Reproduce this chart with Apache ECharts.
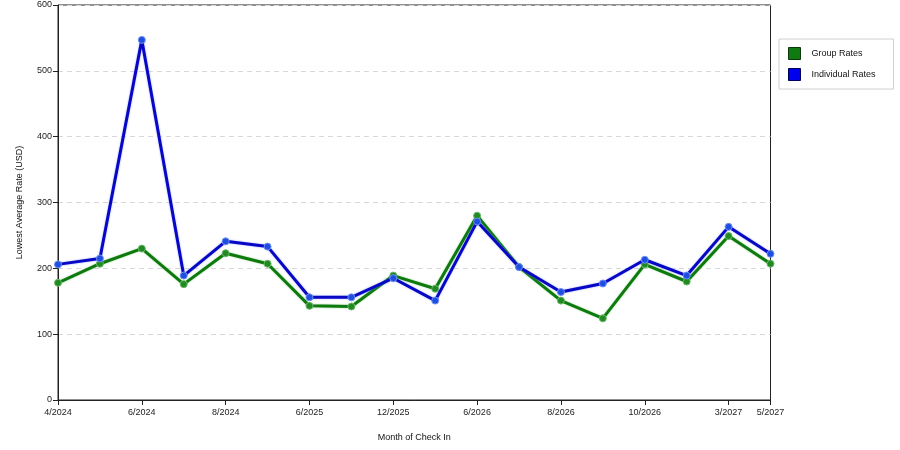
<!DOCTYPE html>
<html>
<head>
<meta charset="utf-8">
<script src="https://cdn.jsdelivr.net/npm/echarts@6/dist/echarts.min.js"></script>
<style>html,body{margin:0;padding:0;background:#fff;}#c{width:900px;height:450px;}</style>
</head>
<body>
<div id="c"></div>
<script>
var categories = ['4/2024','5/2024','6/2024','7/2024','8/2024','9/2024','6/2025','7/2025','12/2025','1/2026','6/2026','7/2026','8/2026','9/2026','10/2026','11/2026','3/2027','5/2027'];
var groupRates = [178,207,230,176,223,207,143,142,189,169,280,202,151,124,206,180,249,207];
var individualRates = [206,215,547,189,241,233,156,156,185,151,271,202,164,177,213,189,263,222];
var yTicks = [0,100,200,300,400,500,600];

var FONT = 'Liberation Sans';
function showIdx(i){ return i % 2 === 0 || i === categories.length - 1; }

var chart = echarts.init(document.getElementById('c'));
chart.setOption({
  animation: false,
  backgroundColor: '#fff',
  textStyle: { fontFamily: FONT },
  grid: { left: 58, right: 129.5, top: 5, bottom: 50, show: true, borderColor: '#222', borderWidth: 1, backgroundColor: 'transparent' },
  legend: {
    orient: 'vertical', left: 779, top: 39, width: 112,
    padding: [8, 18, 8, 9], itemGap: 8,
    borderColor: '#d0d0d0', borderWidth: 1,
    icon: 'rect', itemWidth: 12, itemHeight: 12,
    textStyle: { fontFamily: FONT, fontSize: 9, color: '#111', padding: [2, 0, 0, 6] },
    data: [
      { name: 'Group Rates', itemStyle: { color: '#0f7a0f', borderColor: '#0a3a0a', borderWidth: 1 } },
      { name: 'Individual Rates', itemStyle: { color: '#0000ee', borderColor: '#00005a', borderWidth: 1 } }
    ]
  },
  xAxis: {
    type: 'category', data: categories, boundaryGap: false,
    name: 'Month of Check In', nameLocation: 'middle', nameGap: 33,
    nameTextStyle: { fontFamily: FONT, fontSize: 9, color: '#111' },
    axisLine: { lineStyle: { color: '#222', width: 1 } },
    axisTick: { show: true, interval: function(i){ return showIdx(i); }, length: 5, lineStyle: { color: '#222' } },
    axisLabel: { interval: function(i){ return showIdx(i); }, fontFamily: FONT, fontSize: 9, color: '#222', margin: 8 },
    splitLine: { show: false }
  },
  yAxis: {
    type: 'value', min: yTicks[0], max: yTicks[yTicks.length - 1], interval: 100,
    name: 'Lowest Average Rate (USD)', nameLocation: 'middle', nameGap: 34, nameRotate: 90,
    nameTextStyle: { fontFamily: FONT, fontSize: 9, color: '#111' },
    axisLine: { show: true, lineStyle: { color: '#222', width: 1 } },
    axisTick: { show: true, length: 5, lineStyle: { color: '#222' } },
    axisLabel: { fontFamily: FONT, fontSize: 9, color: '#222', margin: 6 },
    splitLine: { show: true, lineStyle: { color: '#d8d8d8', type: [5, 4], width: 1 } }
  },
  series: [
    {
      name: 'Group Rates', type: 'line', data: groupRates,
      symbol: 'circle', symbolSize: 7,
      lineStyle: { color: '#0e7a0e', width: 3, shadowColor: 'rgba(120,200,120,0.7)', shadowBlur: 2 },
      itemStyle: { color: '#218a21', borderColor: '#6ab86a', borderWidth: 1 },
      z: 2
    },
    {
      name: 'Individual Rates', type: 'line', data: individualRates,
      symbol: 'circle', symbolSize: 7,
      lineStyle: { color: '#0808c4', width: 3, shadowColor: 'rgba(120,140,255,0.7)', shadowBlur: 2 },
      itemStyle: { color: '#1e4fe0', borderColor: '#6f8ff5', borderWidth: 1 },
      z: 3
    }
  ]
});
</script>
</body>
</html>
